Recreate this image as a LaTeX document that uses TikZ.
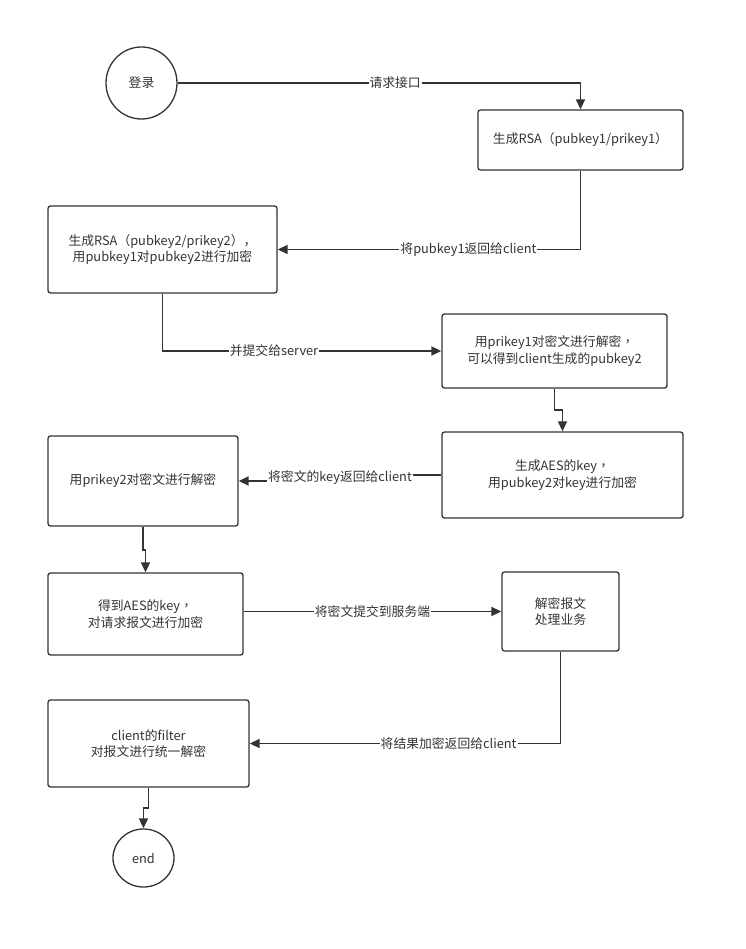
\documentclass[tikz,border=0pt]{standalone}
\usepackage{fontspec}
\setmainfont{Noto Sans CJK SC}
\newfontfamily\tcp{Noto Sans CJK TC}
\usetikzlibrary{arrows.meta,shapes.geometric}
\definecolor{ink}{HTML}{333333}
\tikzset{
  box/.style={draw=ink, line width=1.3pt, rounded corners=2.5pt, align=center, text=ink, inner sep=0pt},
  term/.style={draw=ink, line width=1.3pt, ellipse, align=center, text=ink, inner sep=0pt},
  conn/.style={draw=ink, line width=1.6pt, -{Triangle[length=10pt,width=9pt]}},
  lbl/.style={fill=white, text=ink, inner sep=1pt, font=\fontsize{12.8}{14}\selectfont}
}
\begin{document}
\begin{tikzpicture}[x=1pt, y=-1pt, font=\fontsize{12.8}{16.5}\selectfont]
\useasboundingbox (0,0) rectangle (745,949);
\node[term, minimum width=71pt, minimum height=72pt] (start) at (141.5,83) {登录};
\node[box, minimum width=205pt, minimum height=60pt] (b1) at (580.5,140) {生成RSA{\tcp （}pubkey1/prikey1{\tcp ）}};
\node[box, minimum width=229pt, minimum height=87pt] (b2) at (162.5,249.5) {生成RSA{\tcp （}pubkey2/prikey2{\tcp ）}，\\用pubkey1对pubkey2进行加密};
\node[box, minimum width=225pt, minimum height=74pt] (b3) at (554.5,351) {用prikey1对密文进行解密{\tcp ，}\\可以得到client生成的pubkey2};
\node[box, minimum width=241pt, minimum height=86pt] (b4) at (562.5,475) {生成AES的key{\tcp ，}\\用pubkey2对key进行加密};
\node[box, minimum width=190pt, minimum height=90pt] (b5) at (143,481) {用prikey2对密文进行解密};
\node[box, minimum width=195pt, minimum height=82pt] (b6) at (145.5,614) {得到AES的key{\tcp ，}\\对请求报文进行加密};
\node[box, minimum width=117pt, minimum height=79pt] (b7) at (560.5,611.5) {解密报文\\处理业务};
\node[box, minimum width=201pt, minimum height=87pt] (b8) at (148.5,743.5) {client的filter\\对报文进行统一解密};
\node[term, minimum width=61pt, minimum height=58pt] (end) at (143.5,858) {end};

\coordinate (j3) at (554.5,410);
\coordinate (j4) at (340,475);
\coordinate (j5) at (143,550);
\coordinate (j8) at (148.5,808);

\draw[conn] (start) -| node[lbl, pos=0.27] {请求接口} (b1);
\draw[conn] (b1) |- node[lbl, pos=0.685] {将pubkey1返回给client} (b2);
\draw[conn] (b2) |- node[lbl, pos=0.70] {并提交给server} (b3);
\draw[conn] (b3) -- (j3) -| (b4);
\draw[conn] (b4.west |- j4) -- (j4) |- node[lbl, pos=0.25] {将密文的key返回给client} (b5);
\draw[conn] (b5) -- (j5) -| (b6);
\draw[conn] (b6.east |- b7.west) -- node[lbl] {将密文提交到服务端} (b7.west);
\draw[conn] (b7) |- node[lbl, pos=0.68] {将结果加密返回给client} (b8);
\draw[conn] (b8) -- (j8) -| (end);
\end{tikzpicture}
\end{document}
